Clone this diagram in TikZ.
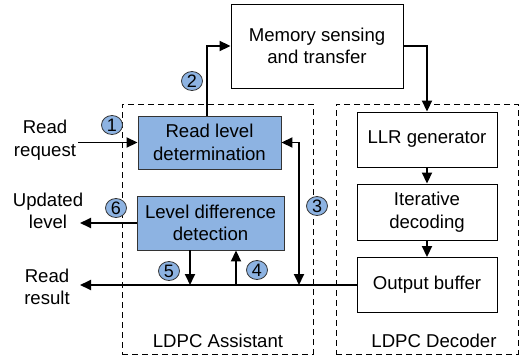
\documentclass[tikz,border=0pt]{standalone}
\usepackage{fontspec}
\setmainfont{Liberation Sans}
\usetikzlibrary{arrows.meta}
\definecolor{boxblue}{HTML}{8DB3E2}
\tikzset{
  x=1pt, y=-1pt,
  every node/.style={font=\fontsize{18.6}{22.5}\selectfont, inner sep=0pt},
  plainbox/.style={draw=black, line width=0.9pt, fill=white, align=center, minimum height=55pt},
  bluebox/.style={draw=black!80, line width=0.9pt, fill=boxblue, align=center, minimum height=54pt},
  group/.style={draw=black, line width=0.8pt, dash pattern=on 6pt off 4pt},
  flow/.style={line width=1.8pt, -{Triangle[length=11pt,width=10pt]}},
  flowtwo/.style={line width=1.8pt, {Triangle[length=11pt,width=10pt]}-{Triangle[length=11pt,width=10pt]}},
  num/.style={ellipse, draw=black!80, line width=0.8pt, fill=boxblue, minimum width=21pt, minimum height=19pt, font=\fontsize{18}{20}\selectfont},
  lbl/.style={align=center}
}
\usetikzlibrary{shapes.geometric}
\begin{document}
\begin{tikzpicture}
\useasboundingbox (0,0) rectangle (521,356);
% groups
\node[group, minimum width=191pt, minimum height=250pt] (asst) at (217.5,229) {};
\node[group, minimum width=182pt, minimum height=250pt] (dec) at (427,229) {};
% boxes
\node[plainbox, minimum width=172pt, minimum height=84pt] (mem) at (317,46) {Memory sensing\\and transfer};
\node[bluebox, minimum width=143pt, minimum height=53pt] (rld) at (209.5,142.5) {Read level\\determination};
\node[bluebox, minimum width=147pt] (ldd) at (210.5,223) {Level difference\\detection};
\node[plainbox, minimum width=140pt] (llr) at (427,139.5) {LLR generator};
\node[plainbox, minimum width=140pt, minimum height=56pt] (itd) at (427,212) {Iterative\\decoding};
\node[plainbox, minimum width=140pt] (ob) at (427,285) {Output buffer};
% labels
\node[lbl] (rreq) at (45,140) {Read\\request};
\node[lbl] (upd) at (48,211) {Updated\\level};
\node[lbl] (rres) at (47,287) {Read\\result};
\node (asstlbl) at (218,341) {LDPC Assistant};
\node (declbl) at (434,341) {LDPC Decoder};
% coordinates
\coordinate (reqstart) at (78,142.5);
\coordinate (updend) at (80,223);
\coordinate (resend) at (80,285);
\coordinate (j3) at (299,285);
\coordinate (j5) at (190,285);
\coordinate (j4) at (236,285);
\coordinate (up2) at (207,46);
% connectors
\draw[flow] (reqstart) -- (rld.west);
\draw[flow] (rld.north -| up2) -- (up2) -- (mem.west);
\draw[flow] (mem.east) -| (llr.north);
\draw[flow] (llr.south) -- (itd.north);
\draw[flow] (itd.south) -- (ob.north);
\draw[flow] (ob.west) -- (resend);
\draw[flowtwo] (rld.east) -| (j3);
\draw[flow] (ldd.south -| j5) -- (j5);
\draw[flow] (j4) -- (ldd.south -| j4);
\draw[flow] (ldd.west) -- (updend);
% numbers
\node[num] (n1) at (112,125) {1};
\node[num] (n2) at (192,81) {2};
\node[num] (n3) at (317,206) {3};
\node[num] (n4) at (257,270) {4};
\node[num] (n5) at (169,271) {5};
\node[num] (n6) at (116,208) {6};
\end{tikzpicture}
\end{document}
